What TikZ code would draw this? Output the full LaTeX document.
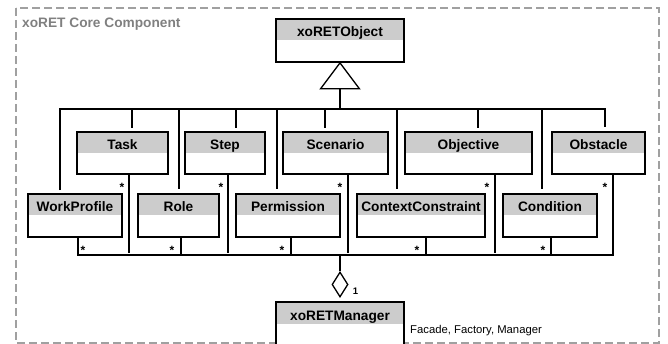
\documentclass[tikz,border=0pt]{standalone}
\usepackage{fontspec}
\setmainfont{Liberation Sans}
\usetikzlibrary{shapes.geometric}

\definecolor{headgray}{HTML}{CCCCCC}
\definecolor{framegray}{HTML}{A0A0A0}
\definecolor{titlegray}{HTML}{808080}

% UML class: name, x1, y1, x2, y2, title (picture units, y grows downward)
\newcommand\umlclass[6]{%
  \pgfmathsetmacro\clsw{#4-#2}\pgfmathsetmacro\clsh{#5-#3}%
  \pgfmathsetmacro\clsx{(#2+#4)/2}\pgfmathsetmacro\clsy{(#3+#5)/2}%
  \pgfmathsetmacro\clsty{#3+18}%
  \node[classbox, minimum width=\clsw pt, minimum height=\clsh pt] (#1) at (\clsx,\clsy) {};
  \node[classtitle] (#1-t) at (\clsx,\clsty) {#6};
}

\begin{document}
\begin{tikzpicture}[x=1pt, y=-1pt,
  classbox/.style={draw=black, line width=1.7pt, fill=white, inner sep=0pt,
    path picture={\fill[headgray] (path picture bounding box.north west)
      rectangle ([yshift=-21.5pt]path picture bounding box.north east);}},
  classtitle/.style={anchor=base, inner sep=0pt, font=\fontsize{13.7}{16}\selectfont\bfseries},
  conn/.style={draw=black, line width=1.3pt},
  mult/.style={inner sep=0pt, font=\fontsize{12}{14}\selectfont\bfseries},
  frame/.style={draw=framegray, line width=1.6pt, dash pattern=on 8pt off 4pt},
]
\useasboundingbox (0,0) rectangle (668,344);
\clip (0,0) rectangle (668,344);

% component frame and its title
\draw[frame] (16,8) rectangle (659,343);
\node[anchor=base west, inner sep=0pt, text=titlegray,
      font=\fontsize{13.7}{16}\selectfont\bfseries] (frametitle) at (22,28) {xoRET Core Component};

% classes
\umlclass{obj}{276}{19}{404}{62}{xoRETObject}
\umlclass{Task}{77}{132}{168}{174}{Task}
\umlclass{Step}{185}{132}{265}{174}{Step}
\umlclass{Scenario}{283}{132}{388}{174}{Scenario}
\umlclass{Objective}{405}{132}{532}{174}{Objective}
\umlclass{Obstacle}{552}{132}{645}{174}{Obstacle}
\umlclass{WorkProfile}{28}{194}{122}{237}{WorkProfile}
\umlclass{Role}{138}{194}{219}{237}{Role}
\umlclass{Permission}{236}{194}{340}{237}{Permission}
\umlclass{ContextConstraint}{357}{194}{485}{237}{ContextConstraint}
\umlclass{Condition}{503}{194}{597}{237}{Condition}

% bus levels
\coordinate (busT) at (0,109);
\coordinate (busB) at (0,255);

% generalization: triangle under xoRETObject
\draw[conn, fill=white, line join=miter] (obj.south) -- ++(-19.5,26) -- ++(39,0) -- cycle;
\coordinate (triBase) at ([yshift=-26pt]obj.south);
\draw[conn] (triBase) -- (triBase |- busT);

% top bus with its end drops
\coordinate (cWP) at (60,0);
\coordinate (cOb) at (605,0);
\draw[conn] ([yshift=3pt]cWP |- WorkProfile.north) -- (cWP |- busT)
  -- (cOb |- busT) -- ([yshift=4pt]cOb |- Obstacle.north);

% drops from the top bus
\foreach \n/\x/\g in {Task/132/3, Step/236/3, Scenario/325/3, Objective/478/3,
                      Role/179/4, Permission/277/4, ContextConstraint/397/4, Condition/542/4} {
  \coordinate (col) at (\x,0);
  \draw[conn] (col |- busT) -- ([yshift=\g pt]col |- \n.north);
}

% bottom bus with its end risers
\coordinate (cWPb) at (78,0);
\coordinate (cObb) at (613,0);
\draw[conn] (cWPb |- WorkProfile.south) -- (cWPb |- busB)
  -- (cObb |- busB) -- (cObb |- Obstacle.south);

% risers from classes to the bottom bus
\foreach \n/\x in {Role/181, Permission/291, ContextConstraint/426, Condition/551} {
  \coordinate (col) at (\x,0);
  \draw[conn] (col |- \n.south) -- (col |- busB);
}
\foreach \n/\x in {Task/129, Step/228, Scenario/348, Objective/495} {
  \coordinate (col) at (\x,0);
  \draw[conn] (col |- \n.south) -- ([yshift=1.5pt]col |- busB);
}

% multiplicities
\foreach \x/\y [count=\i] in {83/248, 122/185, 172/248, 221/185, 282/248,
                   340/185, 417/248, 487/185, 543/248, 605/185} {
  \node[mult, anchor=base] (m\i) at (\x,\y+6.6) {*};
}

% aggregation to the manager
\umlclass{mgr}{276}{302}{404}{360}{xoRETManager}
\node[diamond, draw=black, line width=1.3pt, fill=white, inner sep=0pt,
      minimum width=16pt, minimum height=25pt] (agg) at (340,284.5) {};
\draw[conn] (agg.north) -- (agg.north |- busB);
\node[inner sep=0pt, anchor=base, font=\fontsize{9.5}{11}\selectfont\bfseries] (one) at (355.5,294) {1};

\node[anchor=base west, inner sep=0pt, font=\fontsize{11.3}{13}\selectfont] (note) at (410,333) {Facade, Factory, Manager};
\end{tikzpicture}
\end{document}
